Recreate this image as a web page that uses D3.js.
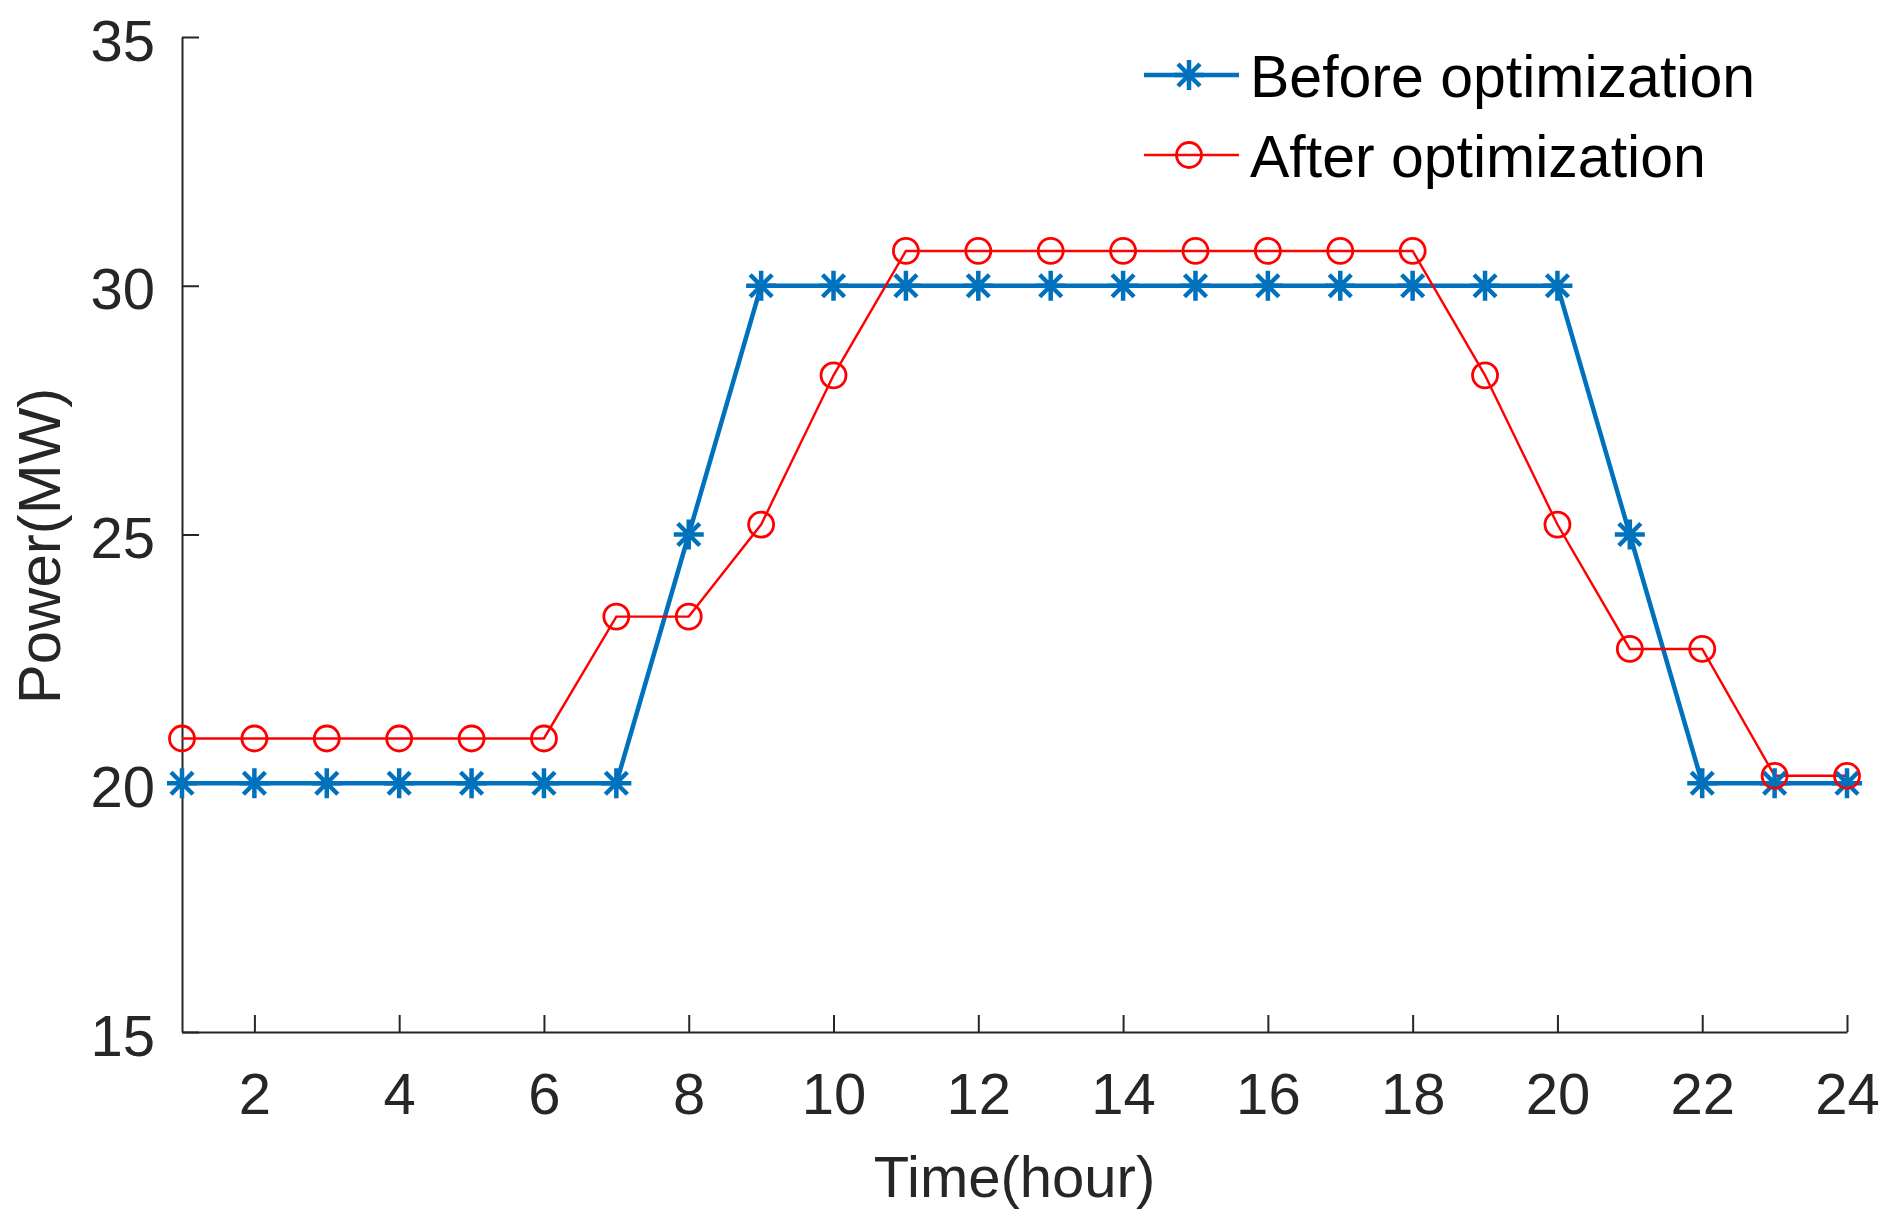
<!DOCTYPE html>
<html>
<head>
<meta charset="utf-8">
<script src="https://cdn.jsdelivr.net/npm/d3@7"></script>
<style>
	body { margin: 0; background: #fff; }
	svg { display: block; font-family: 'Liberation Sans', Arial, sans-serif; }
</style>
</head>
<body>
<div id="chart"></div>
<script>
// hours 1..24
const hours = d3.range(1, 25);
const beforeOpt = [20, 20, 20, 20, 20, 20, 20, 25, 30, 30, 30, 30, 30, 30, 30, 30, 30, 30, 30, 30, 25, 20, 20, 20];
const afterOpt = [20.9, 20.9, 20.9, 20.9, 20.9, 20.9, 23.35, 23.35, 25.2, 28.2, 30.7, 30.7, 30.7, 30.7, 30.7, 30.7, 30.7, 30.7, 28.2, 25.2, 22.7, 22.7, 20.15, 20.15];
const xTicks = [2, 4, 6, 8, 10, 12, 14, 16, 18, 20, 22, 24];
const yTicks = [15, 20, 25, 30, 35];
const seriesNames = ['Before optimization', 'After optimization'];

const width = 1890, height = 1224;
const margins = { top: 37, left: 182, right: 43, bottom: 192 };
const blue = '#0072bd', red = '#ff0000', axisColor = '#262626';

let svg = d3.select('#chart').append('svg')
	.attr('width', width)
	.attr('height', height);

let xScale = d3.scaleLinear()
	.domain([1, 24])
	.range([margins.left, width - margins.right]);
let yScale = d3.scaleLinear()
	.domain([15, 35])
	.range([height - margins.bottom, margins.top]);

// axes, ticks pointing inward like matlab
let xAxis = d3.axisBottom(xScale).tickValues(xTicks).tickSizeInner(-17).tickSizeOuter(0).tickPadding(41);
let yAxis = d3.axisLeft(yScale).tickValues(yTicks).tickSizeInner(-17).tickSizeOuter(0).tickPadding(27);

let gX = svg.append('g')
	.attr('transform', `translate(0,${height - margins.bottom})`)
	.call(xAxis);
let gY = svg.append('g')
	.attr('transform', `translate(${margins.left},0)`)
	.call(yAxis);
[gX, gY].forEach(g => {
	g.select('.domain').attr('stroke', axisColor).attr('stroke-width', 2);
	g.selectAll('.tick line').attr('stroke', axisColor).attr('stroke-width', 2);
	g.selectAll('.tick text')
		.attr('fill', axisColor)
		.style('font-size', '58px')
		.style('font-family', "'Liberation Sans', Arial, sans-serif");
});
gY.selectAll('.tick text').attr('dy', '0.4em');

svg.append('text')
	.attr('x', (xScale.range()[0] + xScale.range()[1]) / 2)
	.attr('y', 1197)
	.attr('text-anchor', 'middle')
	.attr('fill', axisColor)
	.style('font-size', '58px')
	.text('Time(hour)');

svg.append('text')
	.attr('transform', 'translate(60,546) rotate(-90)')
	.attr('text-anchor', 'middle')
	.attr('fill', axisColor)
	.style('font-size', '60px')
	.text('Power(MW)');

// markers
function drawStar(g, cx, cy, color) {
	let r = 15, d = 11;
	let path = `M${cx - r},${cy}L${cx + r},${cy}M${cx},${cy - r}L${cx},${cy + r}` +
		`M${cx - d},${cy - d}L${cx + d},${cy + d}M${cx - d},${cy + d}L${cx + d},${cy - d}`;
	g.append('path').attr('d', path).attr('stroke', color).attr('stroke-width', 4.5).attr('fill', 'none');
}
function drawCircle(g, cx, cy, color) {
	g.append('circle').attr('cx', cx).attr('cy', cy).attr('r', 12.5)
		.attr('fill', 'none').attr('stroke', color).attr('stroke-width', 2.8);
}

let line = d3.line()
	.x((d, i) => xScale(hours[i]))
	.y(d => yScale(d));

let body = svg.append('g').attr('class', 'body');
body.append('path')
	.datum(beforeOpt)
	.attr('d', line)
	.attr('fill', 'none')
	.attr('stroke', blue)
	.attr('stroke-width', 4.5)
	.attr('stroke-linejoin', 'miter');
body.append('path')
	.datum(afterOpt)
	.attr('d', line)
	.attr('fill', 'none')
	.attr('stroke', red)
	.attr('stroke-width', 2.4);

let starG = body.append('g');
beforeOpt.forEach((v, i) => drawStar(starG, xScale(hours[i]), yScale(v), blue));
let circG = body.append('g');
afterOpt.forEach((v, i) => drawCircle(circG, xScale(hours[i]), yScale(v), red));

// legend
let legend = svg.append('g').attr('class', 'legend');
let rows = [
	{ name: seriesNames[0], color: blue, width: 4.5, y: 75, mark: drawStar },
	{ name: seriesNames[1], color: red, width: 2.4, y: 155, mark: drawCircle }
];
rows.forEach(r => {
	legend.append('line')
		.attr('x1', 1144).attr('x2', 1239)
		.attr('y1', r.y).attr('y2', r.y)
		.attr('stroke', r.color).attr('stroke-width', r.width);
	r.mark(legend, 1189, r.y, r.color);
	legend.append('text')
		.attr('x', 1250)
		.attr('y', r.y + 22)
		.attr('fill', '#000')
		.style('font-size', '59px')
		.text(r.name);
});
</script>
</body>
</html>
